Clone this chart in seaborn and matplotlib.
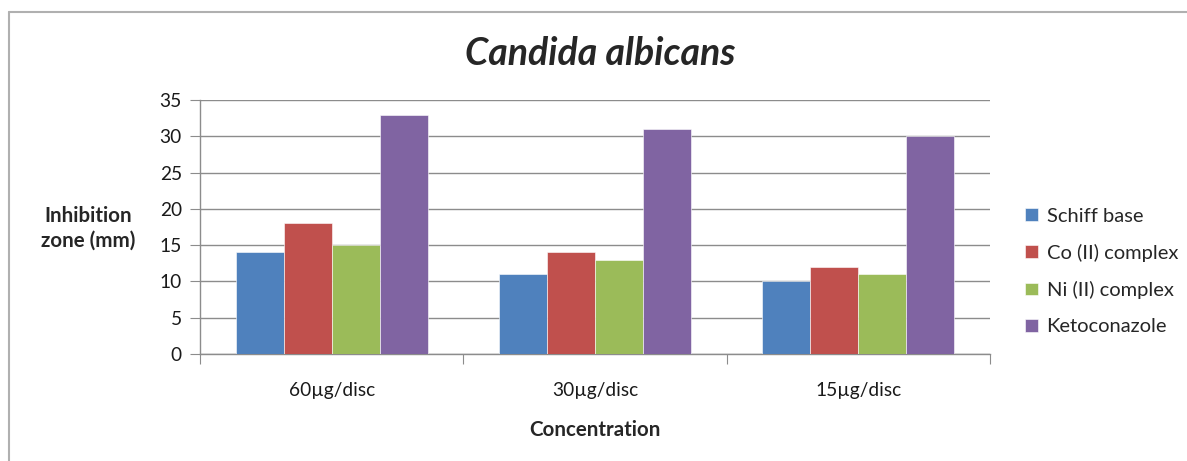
import pandas as pd
import matplotlib
matplotlib.use('Agg')
import matplotlib.pyplot as plt
import seaborn as sb

# data
concentrations = ['60µg/disc', '30µg/disc', '15µg/disc']
schiff_base = [14, 11, 10]
co_complex = [18, 14, 12]
ni_complex = [15, 13, 11]
ketoconazole = [33, 31, 30]
series_names = ['Schiff base', 'Co (II) complex', 'Ni (II) complex', 'Ketoconazole']
colors = ['#4F81BD', '#C0504D', '#9BBB59', '#8064A2']

sb.set_style('white')
plt.rcParams['font.family'] = ['Lato', 'DejaVu Sans']

frame = pd.DataFrame({'Concentration': concentrations,
                      series_names[0]: schiff_base,
                      series_names[1]: co_complex,
                      series_names[2]: ni_complex,
                      series_names[3]: ketoconazole})
long = frame.melt(id_vars='Concentration', var_name='Compound', value_name='Zone')

fig = plt.figure(figsize=(11.87, 4.61), dpi=100)
ax = fig.add_axes([0.1685, 0.2321, 0.6655, 0.551])

sb.barplot(data=long, x='Concentration', y='Zone', hue='Compound',
           hue_order=series_names, palette=colors, width=0.73,
           saturation=1, edgecolor='white', linewidth=0.4, ax=ax, zorder=3)

ax.set_ylim(0, 35)
ax.set_yticks(range(0, 36, 5))
ax.set_xlim(-0.5, 2.5)
ax.yaxis.grid(True, color='#8c8c8c', linewidth=1, zorder=0)
ax.set_axisbelow(True)
for s in ['top', 'right']:
    ax.spines[s].set_visible(False)
for s in ['left', 'bottom']:
    ax.spines[s].set_color('#8c8c8c')
    ax.spines[s].set_linewidth(1)

# category boundary ticks like excel, labels on minor ticks
ax.set_xticks([-0.5, 0.5, 1.5, 2.5])
ax.set_xticklabels([])
ax.set_xticks([0, 1, 2], minor=True)
ax.set_xticklabels(concentrations, minor=True)
ax.tick_params(axis='x', which='major', length=7, color='#8c8c8c', direction='out', bottom=True)
ax.tick_params(axis='x', which='minor', length=0, pad=20, labelsize=13.8, labelcolor='#1a1a1a')
ax.tick_params(axis='y', length=7, color='#8c8c8c', direction='out', left=True,
               labelsize=13.8, labelcolor='#1a1a1a', pad=6)

ax.set_xlabel('')
ax.set_ylabel('')
fig.text(0.5012, 0.067, 'Concentration', ha='center', va='center',
         fontsize=14.8, fontweight='bold')
fig.text(0.0745, 0.505, 'Inhibition\nzone (mm)', ha='center', va='center',
         fontsize=14.8, fontweight='bold', linespacing=1.25)
fig.text(0.506, 0.885, 'Candida albicans', ha='center', va='center',
         fontsize=27, fontweight='bold', style='italic')

ax.legend(loc='center left', bbox_to_anchor=(1.022, 0.325), frameon=False,
          fontsize=14.5, handlelength=0.6, handleheight=0.6, handletextpad=0.45,
          labelspacing=0.95)

# chart frame edge from the spreadsheet screenshot
fig.add_artist(plt.Line2D([0.0076, 0.0076], [0, 0.974], color='#b0b0b0', lw=1.5))
fig.add_artist(plt.Line2D([0.0076, 1], [0.974, 0.974], color='#b0b0b0', lw=1.5))

fig.savefig('out.png', dpi=100)
